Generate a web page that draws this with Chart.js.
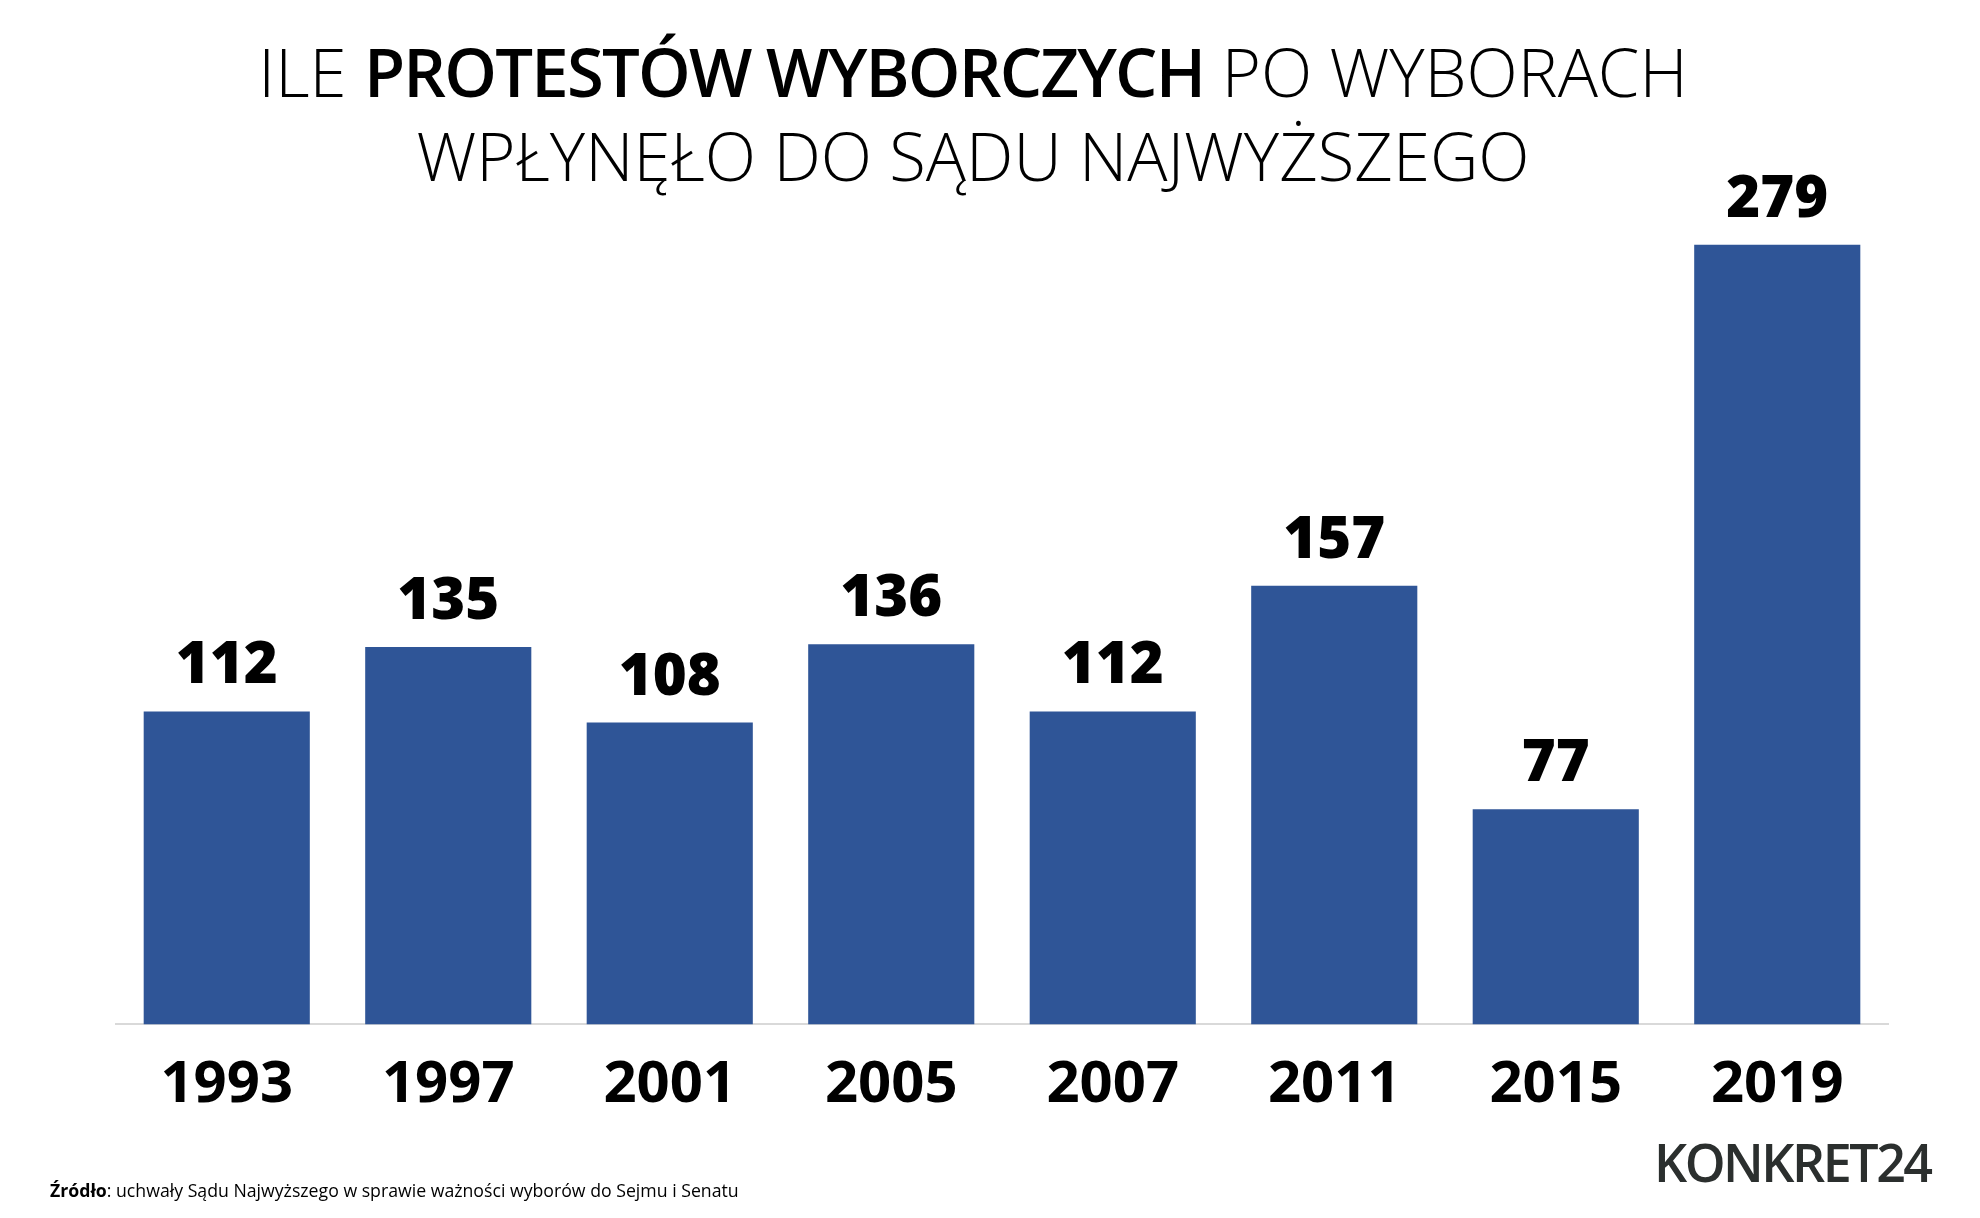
<!DOCTYPE html>
<html lang="pl">
<head>
<meta charset="utf-8">
<title>Protesty wyborcze</title>
<script src="https://cdn.jsdelivr.net/npm/chart.js@4.4.0/dist/chart.umd.min.js"></script>
<style>
  html, body { margin: 0; padding: 0; background: #fff; }
  #wrap { position: relative; width: 1980px; height: 1218px; overflow: hidden; }
  #chart { position: absolute; left: 0; top: 0; }
  #title {
    position: absolute; left: 0; top: 29px; width: 1946px;
    text-align: center; font-family: 'Open Sans', sans-serif;
    font-size: 67px; line-height: 84px; font-weight: 300; color: #000;
  }
  #title b { font-weight: 600; letter-spacing: -1.8px; }
  #source {
    position: absolute; left: 50px; top: 1178px;
    font-family: 'Open Sans', sans-serif; font-size: 17.7px; color: #000;
  }
  #source b { font-weight: 700; }
  #logo {
    position: absolute; left: 1654px; top: 1126px;
    font-family: 'Open Sans', sans-serif; font-size: 52px; font-weight: 600;
    color: #2b2f2e; letter-spacing: -2.5px;
  }
</style>
</head>
<body>
<div id="wrap">
  <canvas id="chart" width="1980" height="1218"></canvas>
  <div id="title">ILE <b>PROTESTÓW WYBORCZYCH</b> PO WYBORACH<br>WPŁYNĘŁO DO SĄDU NAJWYŻSZEGO</div>
  <div id="source"><b>Źródło</b>: uchwały Sądu Najwyższego w sprawie ważności wyborów do Sejmu i Senatu</div>
  <div id="logo">KONKRET24</div>
</div>
<script>
const years = ['1993', '1997', '2001', '2005', '2007', '2011', '2015', '2019'];
const protests = [112, 135, 108, 136, 112, 157, 77, 279];

// value labels above bars
const valueLabels = {
  id: 'valueLabels',
  afterDatasetsDraw(chart) {
    const ctx = chart.ctx;
    const meta = chart.getDatasetMeta(0);
    ctx.save();
    ctx.font = '800 58px "Open Sans"';
    ctx.fillStyle = '#000';
    ctx.textAlign = 'center';
    ctx.textBaseline = 'alphabetic';
    meta.data.forEach((bar, i) => {
      ctx.fillText(protests[i], bar.x, bar.y - 28);
    });
    ctx.restore();
  }
};

const ctx = document.getElementById('chart').getContext('2d');
new Chart(ctx, {
  type: 'bar',
  data: {
    labels: years,
    datasets: [{
      data: protests,
      backgroundColor: '#2f5597',
      borderWidth: 0,
      categoryPercentage: 0.75,
      barPercentage: 1
    }]
  },
  options: {
    responsive: false,
    animation: false,
    events: [],
    layout: { padding: { left: 116, right: 92, top: 186, bottom: 72 } },
    plugins: {
      legend: { display: false },
      tooltip: { enabled: false }
    },
    scales: {
      x: {
        grid: { display: false, drawTicks: false },
        border: { display: true, color: '#d9d9d9', width: 2 },
        ticks: {
          color: '#000',
          padding: 26,
          font: { family: 'Open Sans', size: 58, weight: 'bold' }
        }
      },
      y: {
        display: false,
        min: 0,
        max: 300
      }
    }
  },
  plugins: [valueLabels]
});
</script>
</body>
</html>
